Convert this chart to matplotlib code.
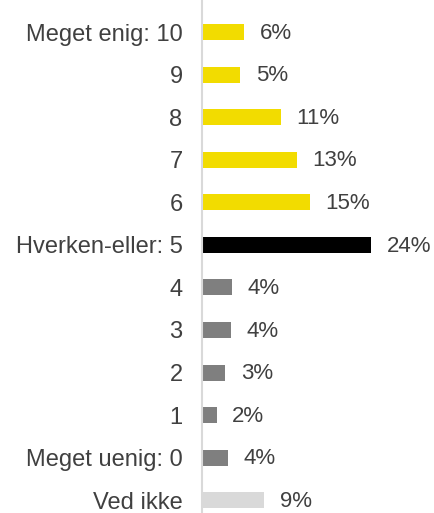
import matplotlib
matplotlib.use("Agg")
import matplotlib.pyplot as plt

# Data (top to bottom)
categories = ["Meget enig: 10", "9", "8", "7", "6", "Hverken-eller: 5",
              "4", "3", "2", "1", "Meget uenig: 0", "Ved ikke"]
values = [6.0, 5.4, 11.2, 13.4, 15.3, 24.0, 4.3, 4.1, 3.3, 2.1, 3.7, 8.8]
colors = ["#f2dc00"] * 5 + ["#000000"] + ["#7f7f7f"] * 5 + ["#d9d9d9"]

plt.rcParams["font.family"] = ["Liberation Sans", "DejaVu Sans"]

fig = plt.figure(figsize=(4.35, 5.13), dpi=100)
ax = fig.add_axes([202 / 435, 0, 233 / 435, 1])

pos = list(range(len(categories)))
ax.barh(pos, values, height=0.376, color=colors)

for y, v in zip(pos, values):
    ax.text(v + 2.2, y + 0.03, f"{round(v)}%", va="center", ha="left",
            fontsize=16, color="#404040")

ax.set_xlim(0, 33)
ax.set_ylim(11.30, -0.752)
ax.set_yticks(pos)
ax.set_yticklabels(categories, fontsize=17, color="#404040")
ax.tick_params(axis="y", length=0, pad=14)
ax.set_xticks([])

for s in ["top", "right", "bottom"]:
    ax.spines[s].set_visible(False)
ax.spines["left"].set_color("#d9d9d9")
ax.spines["left"].set_linewidth(1.5)

fig.savefig("out.png", dpi=100)
